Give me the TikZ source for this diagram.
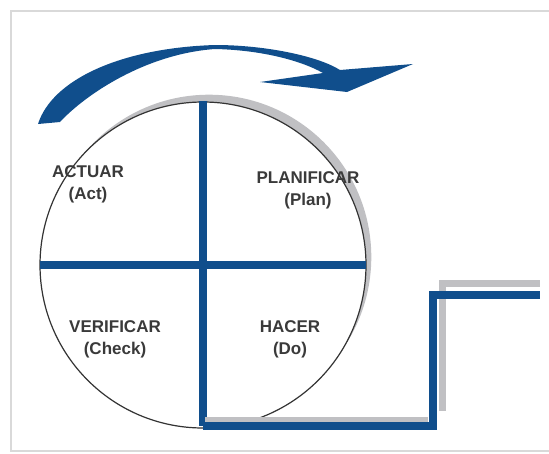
\documentclass[tikz,border=0pt]{standalone}
\usepackage{fontspec}
\setmainfont{Liberation Sans}
\definecolor{pdcablue}{RGB}{16,78,140}
\definecolor{pdcagrey}{RGB}{192,192,195}
\definecolor{labelgrey}{RGB}{58,58,58}

\begin{document}
\begin{tikzpicture}[x=1pt, y=-1pt,
	quadlabel/.style={align=center,
					font=\fontsize{17}{22}\selectfont\bfseries,
					text=labelgrey,
					inner sep=0pt
					},
	crossline/.style={draw=pdcablue, line width=8pt},
	stepline/.style={draw=pdcablue, line width=8pt},
	shadowline/.style={draw=pdcagrey, line width=6pt},
	cyclearrow/.style={fill=pdcablue}
]
	\useasboundingbox (0,0) rectangle (549,453);
	\draw[black!15, line width=1.5pt] (551,11) -- (11,11) -- (11,451) -- (551,451);

	\coordinate (centre) at (203,265);
	\coordinate (shadowcentre) at (209,257);
	\coordinate (north) at (203,101);
	\coordinate (west) at (40,265);
	\coordinate (east) at (366,265);
	\coordinate (stepstart) at (203,426);
	\coordinate (stepcorner) at (433,426);
	\coordinate (steptop) at (433,295);
	\coordinate (stepend) at (540,295);

	% shadow of the wheel, then the wheel
	\fill[pdcagrey] (shadowcentre) circle[radius=162.3];
	\draw[fill=white, draw=black!80, line width=1.2pt] (centre) circle[radius=163];
	\draw[crossline] (north) -- (stepstart);
	\draw[crossline] (west) -- (east);

	% the step
	\draw[shadowline, line width=5pt] (205,419) -- (428,419);
	\draw[shadowline, line width=7pt] (442,411) -- (442,283) -- (540,283);
	\draw[stepline] (stepstart) -- (stepcorner) -- (steptop) -- (stepend);

	\node (act) [quadlabel] at (88,184) {ACTUAR\\(Act)};
	\node (plan) [quadlabel] at (308,190) {PLANIFICAR\\(Plan)};
	\node (check) [quadlabel] at (115,339) {VERIFICAR\\(Check)};
	\node (do) [quadlabel] at (290,339) {HACER\\(Do)};

	% turning arrow over the wheel
	\fill[cyclearrow] (38,124) .. controls (52,80) and (120,48) .. (215,45)
		.. controls (265,45) and (318,56) .. (340,70) -- (413,64) -- (347,92) -- (260,82) -- (323,73)
		.. controls (300,60) and (260,50) .. (215,49)
		.. controls (145,54) and (85,95) .. (60,122) -- cycle;
\end{tikzpicture}
\end{document}
